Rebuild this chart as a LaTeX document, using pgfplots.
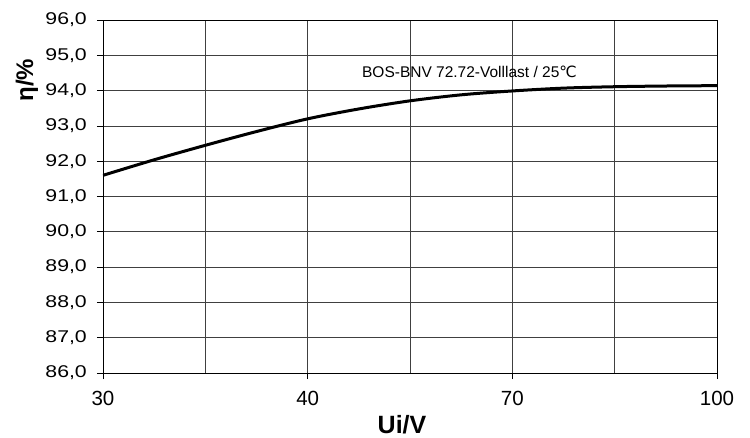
\documentclass[border=0pt]{standalone}
\usepackage{fontspec}
\setmainfont{Liberation Sans}
\newfontfamily\widefont[FakeStretch=1.25]{Liberation Sans}
\newfontfamily\dejavu{DejaVu Sans}
\usepackage{pgfplots}
\pgfplotsset{compat=1.18}

\begin{document}
\begin{tikzpicture}
\begin{axis}[
    scale only axis,
    width=614pt, height=353pt,
    xmin=0, xmax=6, ymin=86, ymax=96,
    xtick={0,2,4,6},
    xticklabels={30,40,70,100},
    minor xtick={1,3,5},
    ytick={86,87,...,96},
    grid=both,
    major grid style={black!75, line width=0.7pt},
    minor grid style={black!75, line width=0.7pt},
    axis line style={black, line width=0.9pt},
    tick align=outside, tick pos=left,
    major tick length=6pt, minor tick length=0pt,
    tick style={black, line width=0.8pt},
    /pgf/number format/.cd, fixed, fixed zerofill, precision=1, use comma, assume math mode=true,
    /pgfplots/.cd,
    yticklabel style={font=\widefont\fontsize{17}{17}\selectfont, inner sep=0pt, xshift=-10pt},
    xticklabel style={font=\fontsize{20.5}{20.5}\selectfont, inner sep=0pt, yshift=-12pt},
    xlabel={\textbf{Ui/V}},
    xlabel style={font=\fontsize{25}{25}\selectfont, at={(axis description cs:0.487,0)}, anchor=base, yshift=-60pt, inner sep=0pt},
    ylabel={\textbf{η/\%}},
    ylabel style={font=\fontsize{24}{24}\selectfont, at={(axis description cs:-0.124,0.83)}, anchor=center, inner sep=0pt},
]
% efficiency at full load, 25 C
\addplot[black, line width=3pt, smooth] coordinates {
    (0,91.60) (0.5,92.04) (1,92.45) (1.5,92.84) (2,93.20) (2.5,93.48)
    (3,93.71) (3.5,93.88) (4,93.99) (4.5,94.07) (5,94.11) (5.5,94.13) (6,94.14)
};
\node[anchor=base west, inner sep=0pt, font=\fontsize{15.5}{15.5}\selectfont]
    at (axis cs:2.53,94.37) {BOS-BNV 72.72-Volllast / 25{\dejavu ℃}};
\end{axis}
\pgfresetboundingbox
\path[use as bounding box] (-103pt,-64pt) rectangle (647pt,373pt);
\end{tikzpicture}
\end{document}
